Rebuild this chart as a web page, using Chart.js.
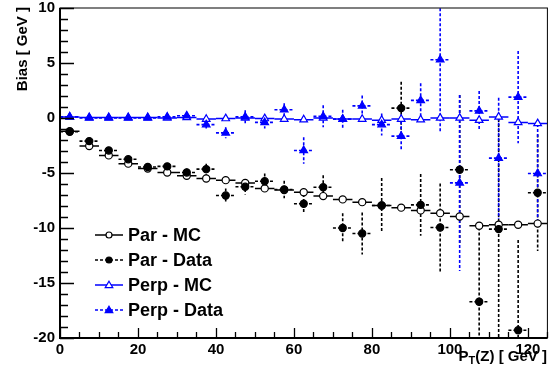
<!DOCTYPE html>
<html>
<head>
<meta charset="utf-8">
<script src="https://cdn.jsdelivr.net/npm/chart.js@4.4.1/dist/chart.umd.min.js"></script>
<style>
  html, body { margin: 0; padding: 0; background: #fff; }
  #wrap { width: 553px; height: 379px; position: relative; }
</style>
</head>
<body>
<div id="wrap"><canvas id="c" width="553" height="379"></canvas></div>
<script>
// Bin centres of P_T(Z) [GeV], 5 GeV wide bins
const ptBins = [2.5, 7.5, 12.5, 17.5, 22.5, 27.5, 32.5, 37.5, 42.5, 47.5, 52.5, 57.5, 62.5,
                67.5, 72.5, 77.5, 82.5, 87.5, 92.5, 97.5, 102.5, 107.5, 112.5, 117.5, 122.5];
const binHalfWidth = 2.5;

// Parallel bias, simulation
const parMC    = [-1.2, -2.55, -3.4, -4.15, -4.6, -4.95, -5.25, -5.5, -5.65, -5.9, -6.4, -6.55, -6.75,
                  -7.1, -7.4, -7.65, -7.95, -8.15, -8.4, -8.65, -8.95, -9.8, -9.7, -9.7, -9.6];
const parMCErr = [0.05, 0.05, 0.05, 0.05, 0.05, 0.05, 0.05, 0.05, 0.1, 0.1, 0.1, 0.1, 0.1,
                  0.1, 0.1, 0.15, 0.15, 0.15, 0.15, 0.2, 0.2, 0.2, 0.2, 0.25, 0.25];

// Parallel bias, data
const parData    = [-1.25, -2.1, -2.95, -3.75, -4.45, -4.4, -4.95, -4.65, -7.05, -6.25, -5.75, -6.5, -7.8,
                    -6.3, -10.0, -10.5, -7.95, 0.9, -7.9, -9.95, -4.7, -16.7, -10.1, -19.3, -6.8];
const parDataErr = [0.15, 0.2, 0.2, 0.25, 0.25, 0.3, 0.35, 0.5, 0.65, 0.7, 0.7, 0.8, 0.9,
                    1.1, 1.35, 1.9, 2.5, 2.4, 2.8, 4.0, 6.8, 7.2, 10.0, 8.2, 5.3];

// Perpendicular bias, simulation
const perpMC    = [0.1, 0.05, 0.05, 0.05, 0.05, 0.0, 0.05, -0.1, -0.05, 0.0, -0.05, -0.1, -0.15,
                   0.0, -0.1, -0.1, -0.2, -0.1, -0.15, 0.0, 0.0, -0.2, 0.1, -0.4, -0.5];
const perpMCErr = [0.05, 0.05, 0.05, 0.05, 0.05, 0.05, 0.05, 0.05, 0.05, 0.05, 0.05, 0.1, 0.1,
                   0.1, 0.1, 0.1, 0.1, 0.1, 0.1, 0.15, 0.15, 0.15, 0.15, 0.2, 0.2];

// Perpendicular bias, data
const perpData    = [0.1, 0.0, 0.0, 0.0, 0.0, 0.1, 0.2, -0.6, -1.35, 0.1, -0.4, 0.75, -2.95,
                     0.15, -0.1, 1.1, -0.6, -1.65, 1.6, 5.3, -5.9, 0.65, -3.65, 1.9, -5.05];
const perpDataErr = [0.1, 0.1, 0.1, 0.15, 0.15, 0.2, 0.35, 0.35, 0.5, 0.6, 0.55, 0.6, 1.2,
                     1.0, 0.85, 0.95, 1.0, 1.35, 1.55, 6.5, 8.0, 1.8, 5.5, 4.2, 4.5];

const xTickLabels = [0, 20, 40, 60, 80, 100, 120];
const yTickLabels = [-20, -15, -10, -5, 0, 5, 10];

const FONT = "'Liberation Sans', Arial, Helvetica, sans-serif";
const BLUE = '#0000ff';

const seriesDefs = [
  { label: 'Par - MC',    y: parMC,    err: parMCErr,    color: '#000', dashed: false, style: 'circle',   fill: '#fff', r: 3.6 },
  { label: 'Par - Data',  y: parData,  err: parDataErr,  color: '#000', dashed: true,  style: 'circle',   fill: '#000', r: 3.6 },
  { label: 'Perp - MC',   y: perpMC,   err: perpMCErr,   color: BLUE,   dashed: false, style: 'triangle', fill: '#fff', r: 4.4 },
  { label: 'Perp - Data', y: perpData, err: perpDataErr, color: BLUE,   dashed: true,  style: 'triangle', fill: BLUE,   r: 4.4 }
];

const datasets = seriesDefs.map((s, i) => ({
  label: s.label,
  data: ptBins.map((x, k) => ({ x: x, y: s.y[k] })),
  errors: s.err,
  dashed: s.dashed,
  showLine: false,
  pointStyle: s.style,
  pointRadius: s.r,
  pointHoverRadius: s.r,
  pointBackgroundColor: s.fill,
  pointBorderColor: s.color,
  pointBorderWidth: 1.2,
  borderColor: s.color,
  backgroundColor: s.fill,
  order: seriesDefs.length - i
}));

// Horizontal (bin width) and vertical (uncertainty) error bars
const errorBars = {
  id: 'errorBars',
  beforeDatasetsDraw(chart) {
    const ctx = chart.ctx, xs = chart.scales.x, ys = chart.scales.y, a = chart.chartArea;
    ctx.save();
    ctx.beginPath();
    ctx.rect(a.left, a.top, a.right - a.left, a.bottom - a.top);
    ctx.clip();
    chart.data.datasets.forEach(ds => {
      ctx.strokeStyle = ds.borderColor;
      ctx.lineWidth = ds.dashed ? 1.6 : 1.5;
      ctx.setLineDash(ds.dashed ? [3, 2] : []);
      ds.data.forEach((p, k) => {
        const e = ds.errors[k];
        const py = ys.getPixelForValue(p.y);
        const px = xs.getPixelForValue(p.x);
        ctx.beginPath();
        ctx.moveTo(xs.getPixelForValue(p.x - binHalfWidth), py);
        ctx.lineTo(xs.getPixelForValue(p.x + binHalfWidth), py);
        ctx.moveTo(px, ys.getPixelForValue(p.y + e));
        ctx.lineTo(px, ys.getPixelForValue(p.y - e));
        ctx.stroke();
      });
    });
    ctx.restore();
  }
};

// Frame, inward ticks, axis titles and legend
const decorations = {
  id: 'decorations',
  afterDraw(chart) {
    const ctx = chart.ctx, xs = chart.scales.x, ys = chart.scales.y, a = chart.chartArea;
    ctx.save();
    ctx.setLineDash([]);
    ctx.strokeStyle = '#000';
    // frame
    ctx.lineWidth = 1;
    ctx.strokeRect(a.left, a.top, a.right - a.left, a.bottom - a.top);
    ctx.lineWidth = 2;
    ctx.beginPath();
    ctx.moveTo(a.left, a.top); ctx.lineTo(a.left, a.bottom); ctx.lineTo(a.right, a.bottom);
    ctx.stroke();
    // y ticks: major every 5, minor every 1
    ctx.lineWidth = 1.3;
    ctx.beginPath();
    for (let v = ys.min; v <= ys.max; v += 1) {
      const py = Math.round(ys.getPixelForValue(v)) + 0.5;
      const len = (v % 5 === 0) ? 14 : 8;
      ctx.moveTo(a.left, py); ctx.lineTo(a.left + len, py);
    }
    // x ticks: major every 20, minor every 5
    for (let v = xs.min; v <= xs.max; v += 5) {
      const px = Math.round(xs.getPixelForValue(v)) + 0.5;
      const len = (v % 20 === 0) ? 10 : 6;
      ctx.moveTo(px, a.bottom); ctx.lineTo(px, a.bottom - len);
    }
    ctx.stroke();

    ctx.fillStyle = '#000';
    // y title, aligned to the top end of the axis
    ctx.save();
    ctx.translate(27, a.top - 1);
    ctx.rotate(-Math.PI / 2);
    ctx.font = 'bold 15px ' + FONT;
    ctx.textAlign = 'right';
    ctx.textBaseline = 'alphabetic';
    ctx.fillText('Bias [ GeV ]', 0, 0);
    ctx.restore();

    // x title with subscript, aligned to the right end of the axis
    ctx.font = 'bold 15px ' + FONT;
    const main1 = 'P', sub = 'T', main2 = '(Z) [ GeV ]';
    const w1 = ctx.measureText(main1).width;
    const w3 = ctx.measureText(main2).width;
    ctx.font = 'bold 11px ' + FONT;
    const w2 = ctx.measureText(sub).width;
    const right = 547, base = 361;
    let x0 = right - (w1 + w2 + w3);
    ctx.textAlign = 'left';
    ctx.textBaseline = 'alphabetic';
    ctx.font = 'bold 15px ' + FONT;
    ctx.fillText(main1, x0, base);
    ctx.font = 'bold 11px ' + FONT;
    ctx.fillText(sub, x0 + w1, base + 3);
    ctx.font = 'bold 15px ' + FONT;
    ctx.fillText(main2, x0 + w1 + w2, base);

    // legend
    const rows = [235, 260, 285, 310];
    seriesDefs.forEach((s, i) => {
      const y = rows[i];
      ctx.strokeStyle = s.color;
      ctx.lineWidth = 1.5;
      ctx.setLineDash(s.dashed ? [3, 2] : []);
      ctx.beginPath();
      ctx.moveTo(95, y); ctx.lineTo(123, y);
      ctx.stroke();
      ctx.setLineDash([]);
      ctx.fillStyle = s.fill;
      ctx.lineWidth = 1.2;
      ctx.beginPath();
      if (s.style === 'circle') {
        ctx.arc(109, y, 3, 0, Math.PI * 2);
      } else {
        ctx.moveTo(109, y - 3.8); ctx.lineTo(112.8, y + 2.6); ctx.lineTo(105.2, y + 2.6); ctx.closePath();
      }
      ctx.fill();
      ctx.stroke();
      ctx.fillStyle = '#000';
      ctx.font = 'bold 18px ' + FONT;
      ctx.textAlign = 'left';
      ctx.textBaseline = 'middle';
      ctx.fillText(s.label, 128, y + 1);
    });
    ctx.restore();
  }
};

new Chart(document.getElementById('c'), {
  type: 'scatter',
  data: { datasets: datasets },
  plugins: [errorBars, decorations],
  options: {
    responsive: false,
    animation: false,
    events: [],
    layout: { padding: { left: 0, top: 8, right: 4, bottom: 0 } },
    plugins: { legend: { display: false }, tooltip: { enabled: false } },
    scales: {
      x: {
        type: 'linear', min: 0, max: 125,
        grid: { display: false, drawTicks: false },
        border: { display: false },
        afterBuildTicks: s => { s.ticks = xTickLabels.map(v => ({ value: v })); },
        afterFit: s => { s.height = 41; s.paddingLeft = 0; s.paddingRight = 0; },
        ticks: { color: '#000', padding: 3, maxRotation: 0, autoSkip: false,
                 font: { family: FONT, size: 15, weight: 'bold' } }
      },
      y: {
        type: 'linear', min: -20, max: 10,
        grid: { display: false, drawTicks: false },
        border: { display: false },
        afterBuildTicks: s => { s.ticks = yTickLabels.map(v => ({ value: v })); },
        afterFit: s => { s.width = 60; s.paddingTop = 0; s.paddingBottom = 0; },
        ticks: { color: '#000', padding: 5, autoSkip: false,
                 font: { family: FONT, size: 15, weight: 'bold' } }
      }
    }
  }
});
</script>
</body>
</html>
